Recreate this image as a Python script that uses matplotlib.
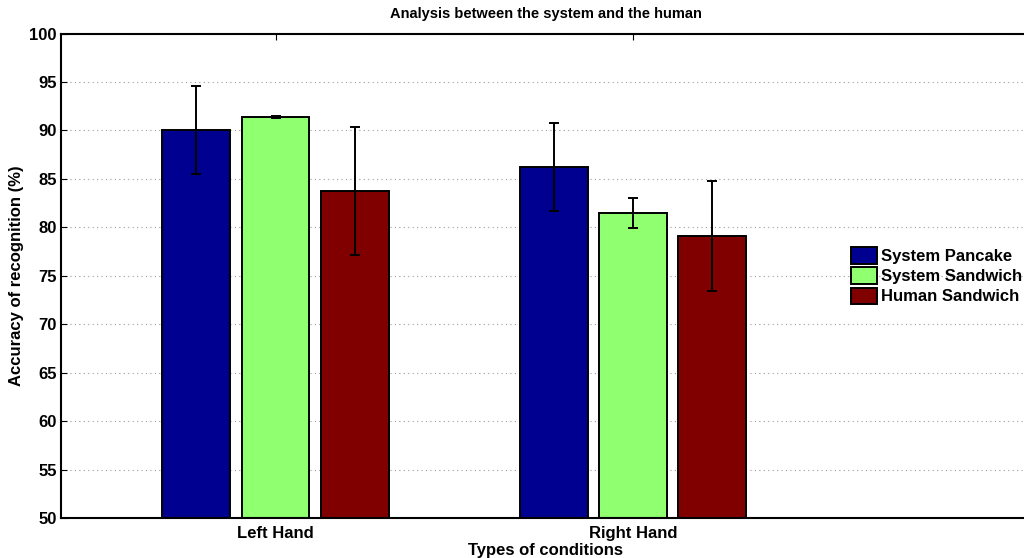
import numpy as np
import matplotlib
matplotlib.use('Agg')
import matplotlib.pyplot as plt

plt.rcParams['font.family'] = ['Liberation Sans', 'DejaVu Sans']
plt.rcParams['font.weight'] = 'bold'

# data
conditions = ['Left Hand', 'Right Hand']
series = ['System Pancake', 'System Sandwich', 'Human Sandwich']
means = [[90.0, 86.2],   # System Pancake
         [91.4, 81.5],   # System Sandwich
         [83.7, 79.1]]   # Human Sandwich
errors = [[4.55, 4.55],
          [0.08, 1.55],
          [6.6, 5.7]]
colors = ['#000090', '#90FF70', '#800000']

fig = plt.figure(figsize=(10.24, 5.58), dpi=100)
ax = fig.add_axes([61/1024, 40/558, 969/1024, 484.5/558])

x = np.arange(1, len(conditions) + 1)
width = 0.19
step = 0.222
for i in range(len(series)):
    ax.bar(x + (i - 1) * step, means[i], width, color=colors[i],
           edgecolor='black', linewidth=1.4, label=series[i], zorder=2)
    ax.errorbar(x + (i - 1) * step, means[i], yerr=errors[i], fmt='none',
                ecolor='black', elinewidth=1.4, capsize=3.5, capthick=1.4, zorder=3)

ax.set_xlim(0.4, 0.4 + 969/357.5)
ax.set_ylim(50, 100)
ax.set_yticks(np.arange(50, 101, 5))
ax.set_xticks(x)
ax.set_xticklabels(conditions)
ax.yaxis.grid(True, linestyle=(0, (1, 3)), color='#999999', linewidth=0.8, zorder=0)
ax.set_axisbelow(True)
ax.tick_params(direction='in', labelsize=12, top=True, length=4)
ax.tick_params(axis='x', pad=6)
ax.tick_params(axis='y', pad=3)
for lbl in ax.get_xticklabels() + ax.get_yticklabels():
    lbl.set_fontweight('bold')
for s in ['left', 'bottom', 'top']:
    ax.spines[s].set_linewidth(1.5)
ax.spines['right'].set_visible(False)

ax.set_xlabel('Types of conditions', fontsize=12, fontweight='bold', labelpad=1)
ax.set_ylabel('Accuracy of recognition (%)', fontsize=12, fontweight='bold', labelpad=4)
ax.set_title('Analysis between the system and the human', fontsize=10.5, fontweight='bold', pad=11)

leg = ax.legend(loc='center left', bbox_to_anchor=(0.808, 0.5), frameon=False,
                fontsize=12, handlelength=1.6, handleheight=1.15, handletextpad=0.2,
                labelspacing=0.2, borderaxespad=0)
for t in leg.get_texts():
    t.set_fontweight('bold')

fig.savefig('out.png', dpi=100)
